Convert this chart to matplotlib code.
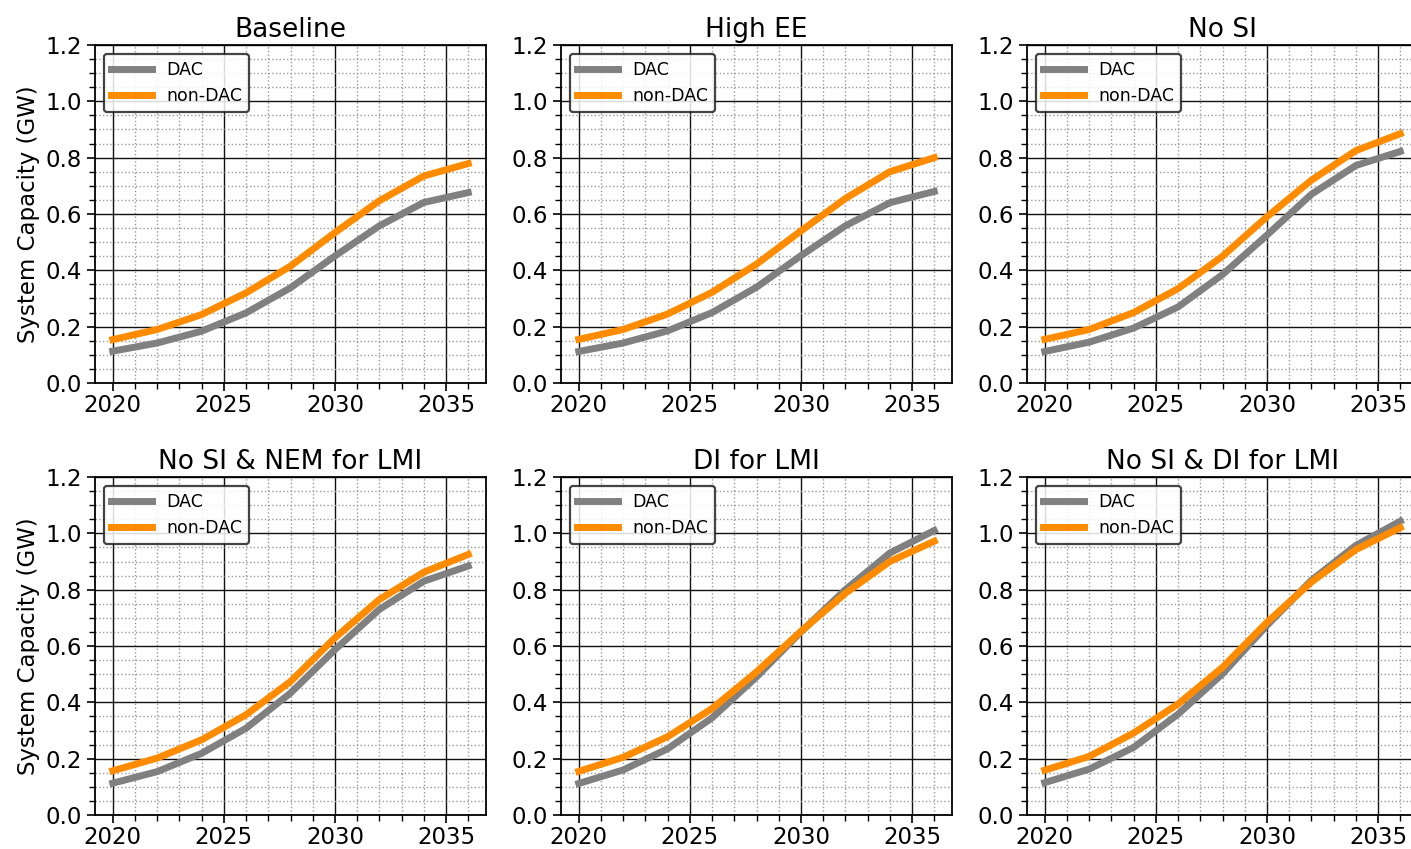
import matplotlib
matplotlib.use('Agg')
import matplotlib.pyplot as plt
from matplotlib.ticker import MultipleLocator

years = [2020, 2022, 2024, 2026, 2028, 2030, 2032, 2034, 2036]

titles = ['Baseline', 'High EE', 'No SI',
          'No SI & NEM for LMI', 'DI for LMI', 'No SI & DI for LMI']

# system capacity in GW, one list per scenario
baseline_dac = [0.113, 0.142, 0.184, 0.249, 0.338, 0.451, 0.558, 0.641, 0.676]
baseline_non = [0.154, 0.190, 0.243, 0.320, 0.415, 0.534, 0.647, 0.735, 0.779]

high_ee_dac = [0.112, 0.142, 0.185, 0.250, 0.340, 0.452, 0.558, 0.640, 0.680]
high_ee_non = [0.155, 0.190, 0.245, 0.322, 0.422, 0.540, 0.655, 0.750, 0.800]

no_si_dac = [0.112, 0.145, 0.195, 0.270, 0.385, 0.525, 0.670, 0.772, 0.822]
no_si_non = [0.155, 0.190, 0.250, 0.335, 0.450, 0.590, 0.720, 0.825, 0.885]

no_si_nem_dac = [0.113, 0.154, 0.219, 0.308, 0.433, 0.587, 0.730, 0.830, 0.884]
no_si_nem_non = [0.157, 0.202, 0.267, 0.356, 0.474, 0.629, 0.765, 0.862, 0.925]

di_dac = [0.112, 0.160, 0.235, 0.345, 0.490, 0.650, 0.800, 0.930, 1.010]
di_non = [0.155, 0.205, 0.278, 0.378, 0.508, 0.652, 0.787, 0.900, 0.972]

no_si_di_dac = [0.115, 0.163, 0.240, 0.358, 0.501, 0.673, 0.833, 0.957, 1.043]
no_si_di_non = [0.159, 0.208, 0.291, 0.394, 0.524, 0.684, 0.827, 0.942, 1.020]

dac_series = [baseline_dac, high_ee_dac, no_si_dac, no_si_nem_dac, di_dac, no_si_di_dac]
non_series = [baseline_non, high_ee_non, no_si_non, no_si_nem_non, di_non, no_si_di_non]

fig = plt.figure(figsize=(14.11, 8.49), dpi=100)

W, H = 1411.0, 849.0
col_left = [95, 561, 1027]
row_bottom = [383, 815]
ax_w = 391
ax_h = 338

for i in range(6):
    r, c = divmod(i, 3)
    ax = fig.add_axes([col_left[c] / W, 1 - row_bottom[r] / H, ax_w / W, ax_h / H])

    ax.plot(years, dac_series[i], color='#808080', linewidth=5, label='DAC')
    ax.plot(years, non_series[i], color='#ff8c00', linewidth=5, label='non-DAC')

    ax.set_ylim(0, 1.2)
    ax.xaxis.set_major_locator(MultipleLocator(5))
    ax.xaxis.set_minor_locator(MultipleLocator(1))
    ax.yaxis.set_major_locator(MultipleLocator(0.2))
    ax.yaxis.set_minor_locator(MultipleLocator(0.05))
    ax.grid(True, which='major', color='#111111', linewidth=1.0)
    ax.grid(True, which='minor', color='#999999', linestyle=':', linewidth=1.0)
    ax.set_axisbelow(True)
    ax.tick_params(which='major', labelsize=16.5, length=6, width=1.2)
    ax.tick_params(axis='x', which='major', pad=2)
    ax.tick_params(which='minor', length=4, width=1)
    for s in ax.spines.values():
        s.set_linewidth(1.3)

    ax.set_title(titles[i], fontsize=19)
    if c == 0:
        ax.set_ylabel('System Capacity (GW)', fontsize=16.5)

    leg = ax.legend(loc='upper left', fontsize=12.5, handlelength=2.4,
                    framealpha=0.85, edgecolor='#222222', fancybox=True)
    leg.get_frame().set_linewidth(1.6)

fig.savefig('out.png', dpi=100)
plt.close(fig)
